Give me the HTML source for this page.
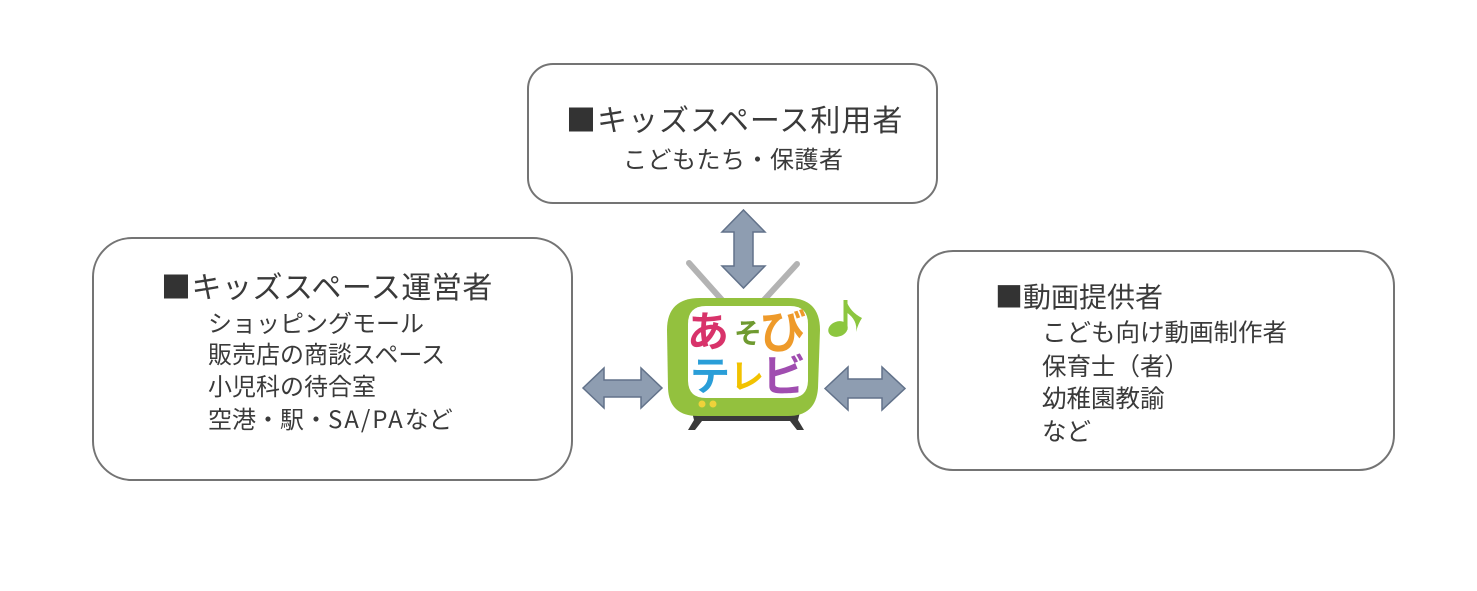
<!DOCTYPE html>
<html><head><meta charset="utf-8">
<style>
html,body{margin:0;padding:0;background:#fff;}
body{width:1477px;height:591px;position:relative;overflow:hidden;font-family:"Liberation Sans","Noto Sans CJK JP",sans-serif;color:#3a3a3a;}
.box{position:absolute;border:2px solid #747474;background:#fff;box-sizing:border-box;}
.t{position:absolute;white-space:nowrap;line-height:1;font-family:"Noto Sans CJK JP","Liberation Sans",sans-serif;font-weight:400;}
.sq{font-family:"Noto Sans CJK JP",sans-serif;color:#333;}
svg{position:absolute;left:0;top:0;}
</style></head><body>

<div class="box" style="left:527px;top:63px;width:411px;height:141px;border-radius:26px;"></div>
<div class="box" style="left:92px;top:237px;width:481px;height:244px;border-radius:40px;"></div>
<div class="box" style="left:917px;top:250px;width:478px;height:221px;border-radius:36px;"></div>

<!-- top box text -->
<div class="t" style="left:566px;top:103px;font-size:30px;letter-spacing:1px;"><span class="sq">■</span>キッズスペース利用者</div>
<div class="t" style="left:623px;top:146px;font-size:24px;letter-spacing:0.5px;">こどもたち・保護者</div>

<!-- left box text -->
<div class="t" style="left:161px;top:270px;font-size:30px;letter-spacing:0.5px;"><span class="sq">■</span>キッズスペース運営者</div>
<div class="t" style="left:208px;top:310px;font-size:24px;">ショッピングモール</div>
<div class="t" style="left:208px;top:341px;font-size:24px;">販売店の商談スペース</div>
<div class="t" style="left:208px;top:373px;font-size:24px;">小児科の待合室</div>
<div class="t" style="left:208px;top:406px;font-size:24px;">空港・駅・<span style="letter-spacing:2px;">SA/PA</span>など</div>

<!-- right box text -->
<div class="t" style="left:995px;top:282px;font-size:28px;"><span class="sq">■</span>動画提供者</div>
<div class="t" style="left:1042px;top:320px;font-size:24.5px;">こども向け動画制作者</div>
<div class="t" style="left:1042px;top:354px;font-size:24.5px;">保育士（者）</div>
<div class="t" style="left:1042px;top:386px;font-size:24.5px;">幼稚園教諭</div>
<div class="t" style="left:1042px;top:419px;font-size:24.5px;">など</div>

<svg width="1477" height="591" viewBox="0 0 1477 591">
  <!-- arrows -->
  <g fill="#8e9db1" stroke="#62728a" stroke-width="1.5" stroke-linejoin="miter">
    <polygon points="743.5,210 765,232 753,232 753,266 765,266 743.5,288 722,266 734,266 734,232 722,232"/>
    <polygon points="583,388 604,368 604,380 641,380 641,368 662,388 641,408 641,397 604,397 604,408"/>
    <polygon points="825,388.5 848,367 848,379 882,379 882,367 905,388.5 882,410 882,398 848,398 848,410"/>
  </g>

  <!-- TV antennae -->
  <g stroke="#b3b3b3" stroke-width="6" stroke-linecap="round">
    <line x1="689" y1="263" x2="722" y2="300"/>
    <line x1="797" y1="264" x2="764" y2="300"/>
  </g>
  <!-- stand -->
  <polygon fill="#3a3a3a" points="692,412 800,412 798,420 804,430 797,430 790,421 702,421 695,430 688,430 694,420"/>
  <!-- body -->
  <path fill="#93c13e" d="M700,298 L788,298 Q820,298 820,330 L818,388 Q816,416 788,416 L698,416 Q669,416 668,388 L667,330 Q667,298 700,298 Z"/>
  <!-- screen -->
  <path fill="#ffffff" d="M706,306 L790,306 Q808,306 808,324 L808,380 Q808,398 790,398 L706,398 Q688,398 688,380 L688,324 Q688,306 706,306 Z"/>
  <circle cx="702" cy="404" r="3.5" fill="#eed23a"/>
  <circle cx="713" cy="404" r="3.5" fill="#eed23a"/>

  <!-- letters -->
  <g font-family="'Noto Sans CJK JP','WenQuanYi Zen Hei',sans-serif" font-weight="700" dominant-baseline="central">
    <text x="687" y="329" font-size="42" fill="#d8336a">あ</text>
    <text x="734" y="332" font-size="28" fill="#6f9a30">そ</text>
    <text x="760" y="329" font-size="46" fill="#ee9a2a">び</text>
    <text x="690" y="373" font-size="40" fill="#2a9ed8">テ</text>
    <text x="730" y="374" font-size="34" fill="#f2c200">レ</text>
    <text x="762" y="372" font-size="44" fill="#a04db0">ビ</text>
  </g>

  <!-- music note -->
  <g fill="#8cc63f">
    <ellipse cx="838" cy="329" rx="10" ry="7.5" transform="rotate(-20 838 329)"/>
    <rect x="843.5" y="300" width="4" height="30"/>
    <path d="M846,300 Q850,312 862,318 Q858,324 856,332 Q858,320 846,312 Z"/>
  </g>
</svg>
</body></html>
